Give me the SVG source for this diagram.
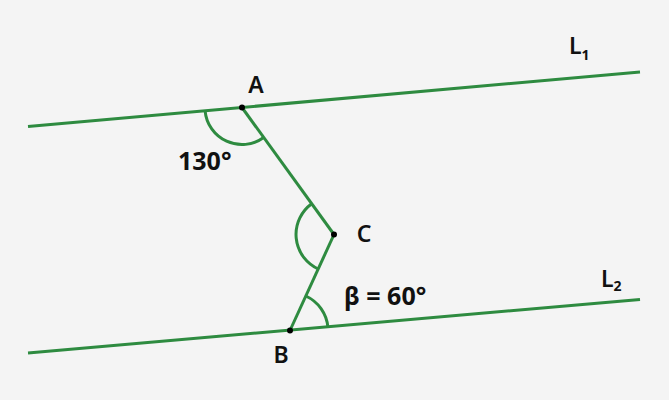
<svg xmlns="http://www.w3.org/2000/svg" width="669" height="400" viewBox="0 0 669 400">
<style>
.ln{stroke:#2e8b40;stroke-width:3;fill:none;stroke-linecap:butt}
.arc{stroke:#2e8b40;stroke-width:3;fill:none}
.pt{fill:#000}
.lbl{font-family:"Noto Sans","Open Sans","Liberation Sans",sans-serif;font-weight:600;font-size:23px;fill:#111}
.ang{font-family:"Noto Sans","Open Sans","Liberation Sans",sans-serif;font-weight:700;font-size:25px;fill:#111}
.sub{font-size:14px;font-weight:700}
</style>
<rect x="0" y="0" width="669" height="400" fill="#f4f4f4"/>
<g id="connectors">
<line class="ln" x1="28" y1="126.5" x2="640" y2="72"/>
<line class="ln" x1="28" y1="353" x2="640" y2="299.5"/>
<line class="ln" x1="242" y1="107.5" x2="334" y2="234.5"/>
<line class="ln" x1="334" y1="234.5" x2="290" y2="330.5"/>
</g>
<g id="angles">
<path class="arc" d="M205.1,110.8 A37,37 0 0 0 263.7,137.5"/>
<path class="arc" d="M311.7,203.7 A38,38 0 0 0 318.2,269"/>
<path class="arc" d="M305.8,296 A38,38 0 0 1 327.9,327.2"/>
</g>
<g id="node-A">
<circle class="pt" cx="242" cy="107.5" r="3"/>
<text class="lbl" x="256" y="93" text-anchor="middle">A</text>
</g>
<g id="node-C">
<circle class="pt" cx="334" cy="234.5" r="3"/>
<text class="lbl" x="364" y="242" text-anchor="middle">C</text>
</g>
<g id="node-B">
<circle class="pt" cx="290" cy="330.5" r="3"/>
<text class="lbl" x="281" y="362.5" text-anchor="middle">B</text>
</g>
<g id="label-130">
<text class="ang" x="178" y="169.5">130°</text>
</g>
<g id="label-beta">
<text class="ang" x="344" y="304.5">β = 60°</text>
</g>
<g id="label-L1">
<text class="lbl" x="569" y="54" font-size="21">L<tspan class="sub" dy="6">1</tspan></text>
</g>
<g id="label-L2">
<text class="lbl" x="601" y="287" font-size="21">L<tspan class="sub" dy="4">2</tspan></text>
</g>
</svg>
